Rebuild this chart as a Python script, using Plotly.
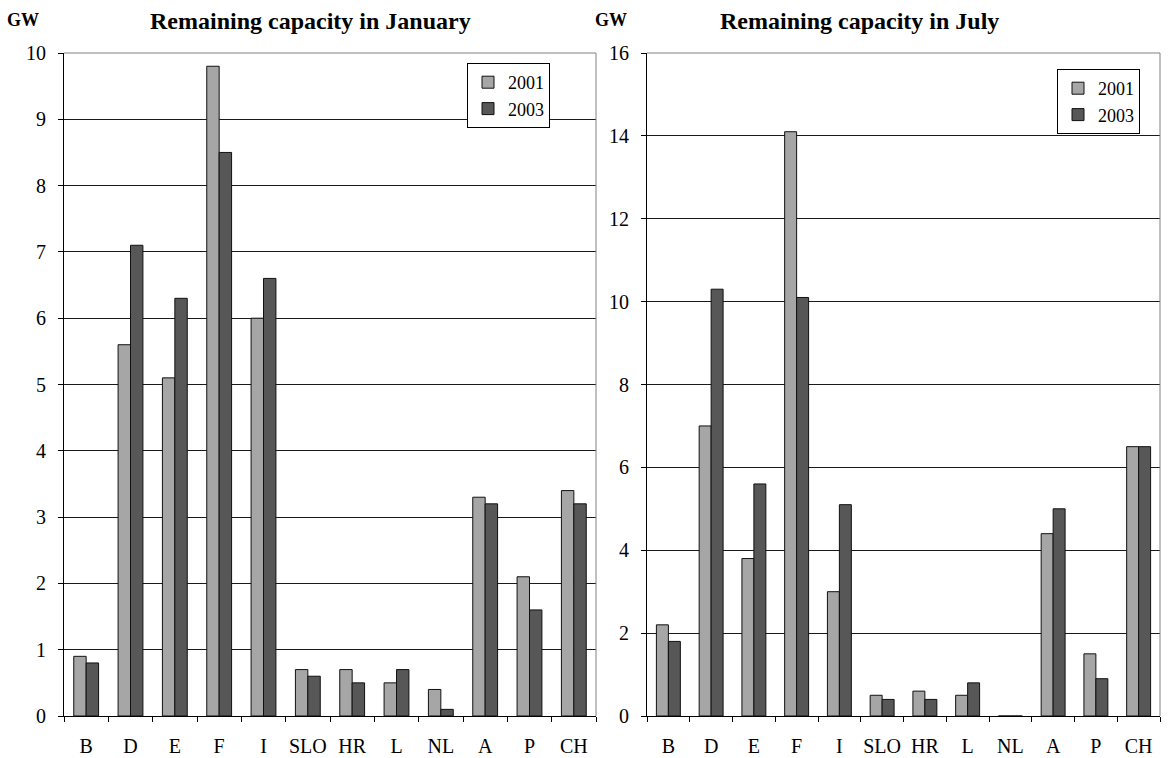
import plotly.graph_objects as go

categories = ["B", "D", "E", "F", "I", "SLO", "HR", "L", "NL", "A", "P", "CH"]
jan_2001 = [0.9, 5.6, 5.1, 9.8, 6.0, 0.7, 0.7, 0.5, 0.4, 3.3, 2.1, 3.4]
jan_2003 = [0.8, 7.1, 6.3, 8.5, 6.6, 0.6, 0.5, 0.7, 0.1, 3.2, 1.6, 3.2]
jul_2001 = [2.2, 7.0, 3.8, 14.1, 3.0, 0.5, 0.6, 0.5, 0.0, 4.4, 1.5, 6.5]
jul_2003 = [1.8, 10.3, 5.6, 10.1, 5.1, 0.4, 0.4, 0.8, 0.0, 5.0, 0.9, 6.5]
series_names = ["2001", "2003"]
jan_ticks = list(range(0, 11))
jul_ticks = list(range(0, 17, 2))

LIGHT = "#A6A6A6"
DARK = "#575757"
FONT = "Liberation Serif"

fig = go.Figure()
for name, vals, col in [(series_names[0], jan_2001, LIGHT), (series_names[1], jan_2003, DARK)]:
    fig.add_trace(go.Bar(x=categories, y=vals, name=name, marker_color=col,
                         marker_line=dict(color="#111", width=1),
                         xaxis="x", yaxis="y", legend="legend"))
for name, vals, col in [(series_names[0], jul_2001, LIGHT), (series_names[1], jul_2003, DARK)]:
    fig.add_trace(go.Bar(x=categories, y=vals, name=name, marker_color=col,
                         marker_line=dict(color="#111", width=1),
                         xaxis="x2", yaxis="y2", legend="legend2"))

W, H = 1168, 758
ydom = [(H - 716) / H, (H - 53) / H]
xdom1 = [64 / W, 596 / W]
xdom2 = [647 / W, 1160 / W]

xcommon = dict(type="category", showline=True, linecolor="#000", linewidth=1, mirror=False,
               ticks="outside", tickson="boundaries", ticklen=5, tickcolor="#000",
               tickfont=dict(family=FONT, size=20, color="#000"), ticklabelstandoff=12,
               tickangle=0, automargin=False,
               showgrid=False, zeroline=False, fixedrange=True)
ycommon = dict(showline=True, linecolor="#000", linewidth=1, ticks="outside", ticklen=5,
               tickcolor="#000", showgrid=True, gridcolor="#1a1a1a", gridwidth=1,
               zeroline=False, tickfont=dict(family=FONT, size=20, color="#000"),
               ticklabelstandoff=8, automargin=False, fixedrange=True)

fig.update_layout(
    width=W, height=H, margin=dict(l=0, r=0, t=0, b=0, autoexpand=False),
    paper_bgcolor="white", plot_bgcolor="white",
    barmode="group", bargap=0.44, bargroupgap=0,
    font=dict(family=FONT, color="#000"),
    xaxis=dict(domain=xdom1, anchor="y", **xcommon),
    xaxis2=dict(domain=xdom2, anchor="y2", **xcommon),
    yaxis=dict(domain=ydom, anchor="x", range=[0, 10], tickvals=jan_ticks, **ycommon),
    yaxis2=dict(domain=ydom, anchor="x2", range=[0, 16], tickvals=jul_ticks, **ycommon),
    legend=dict(x=467 / W, y=1 - 63 / H, xanchor="left", yanchor="top",
                bgcolor="white", bordercolor="#000", borderwidth=1,
                font=dict(family=FONT, size=18), itemwidth=30, tracegroupgap=0),
    legend2=dict(x=1057 / W, y=1 - 69 / H, xanchor="left", yanchor="top",
                 bgcolor="white", bordercolor="#000", borderwidth=1,
                 font=dict(family=FONT, size=18), itemwidth=30, tracegroupgap=0),
    showlegend=True,
)

# gray frame on the top and right of each plot area
for xr, yr in [("x domain", "y domain"), ("x2 domain", "y2 domain")]:
    fig.add_shape(type="line", xref=xr, yref=yr, x0=1, x1=1, y0=0, y1=1,
                  line=dict(color="#808080", width=1))
    fig.add_shape(type="line", xref=xr, yref=yr, x0=0, x1=1, y0=1, y1=1,
                  line=dict(color="#808080", width=1))

titles = [("Remaining capacity in January", 310), ("Remaining capacity in July", 860)]
for txt, xc in titles:
    fig.add_annotation(text=f"<b>{txt}</b>", x=xc / W, y=1 - 21 / H, xref="paper", yref="paper",
                       xanchor="center", yanchor="middle",
                       showarrow=False, font=dict(family=FONT, size=24, color="#000"))
for xg in [23, 611]:
    fig.add_annotation(text="<b>GW</b>", x=xg / W, y=1 - 20 / H, xref="paper", yref="paper",
                       xanchor="center", yanchor="middle",
                       showarrow=False, font=dict(family=FONT, size=18, color="#000"))

fig.write_html("out.html", config={"displayModeBar": False},
               post_script="document.body.style.margin='0';")
